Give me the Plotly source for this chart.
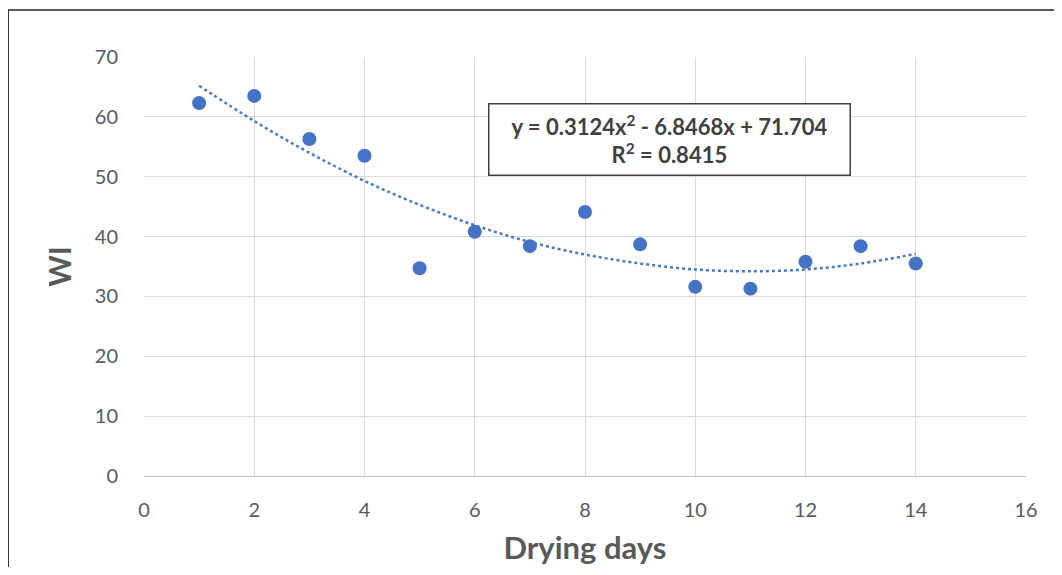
import plotly.graph_objects as go

drying_days = [1, 2, 3, 4, 5, 6, 7, 8, 9, 10, 11, 12, 13, 14]
wi_values = [62.3, 63.5, 56.3, 53.5, 34.7, 40.8, 38.4, 44.1, 38.7, 31.6, 31.3, 35.8, 38.4, 35.5]

# dotted polynomial trendline as it appears on the chart
trend_values = [65.2, 59.3, 54.0, 49.3, 45.3, 41.9, 39.1, 37.0, 35.5, 34.5, 34.2, 34.5, 35.5, 37.1]

equation_text = "y = 0.3124x<sup>2</sup> - 6.8468x + 71.704<br>R<sup>2</sup> = 0.8415"

FONT = "Lato, Carlito, Calibri, sans-serif"
GREY = "#595959"

fig = go.Figure()

fig.add_trace(go.Scatter(
    x=drying_days,
    y=trend_values,
    mode="lines",
    line=dict(color="#4a78c2", width=2.5, dash="dot", shape="spline"),
    hoverinfo="skip",
    showlegend=False
))

fig.add_trace(go.Scatter(
    x=drying_days,
    y=wi_values,
    mode="markers",
    marker=dict(color="#4472C4", size=14),
    showlegend=False
))

# page has an 8px body margin, so the figure is sized to fit inside it
fig.update_layout(
    width=1046,
    height=559,
    margin=dict(l=136, r=28, t=49, b=91),
    plot_bgcolor="white",
    paper_bgcolor="white",
    font=dict(family=FONT, color=GREY),
    xaxis=dict(
        range=[0, 16],
        dtick=2,
        automargin=False,
        showgrid=True,
        gridcolor="#d9d9d9",
        gridwidth=1,
        zeroline=False,
        showline=True,
        linecolor="#bfbfbf",
        ticks="",
        tickfont=dict(size=20, color=GREY),
        ticklabelstandoff=16,
        title=dict(text="<b>Drying days</b>", font=dict(size=31, color=GREY), standoff=17)
    ),
    yaxis=dict(
        range=[0, 70],
        dtick=10,
        automargin=False,
        showgrid=True,
        gridcolor="#d9d9d9",
        gridwidth=1,
        zeroline=False,
        showline=False,
        ticks="",
        tickfont=dict(size=20, color=GREY),
        ticklabelstandoff=25,
        title=dict(text="<b>WI</b>", font=dict(size=30, color=GREY), standoff=14)
    ),
    annotations=[dict(
        xref="paper", yref="paper",
        x=0.596, y=0.803,
        xanchor="center", yanchor="middle",
        text="<b>" + equation_text + "</b>",
        showarrow=False,
        font=dict(size=22, color="#404040", family=FONT),
        align="center",
        width=348,
        height=58,
        bordercolor="#404040",
        borderwidth=1.5,
        borderpad=6,
        bgcolor="white"
    )],
    shapes=[dict(
        type="rect", xref="paper", yref="paper",
        x0=-0.154, x1=1.1, y0=-0.5, y1=1.112,
        line=dict(color="#262626", width=1.5)
    )]
)

fig.write_html("out.html")
